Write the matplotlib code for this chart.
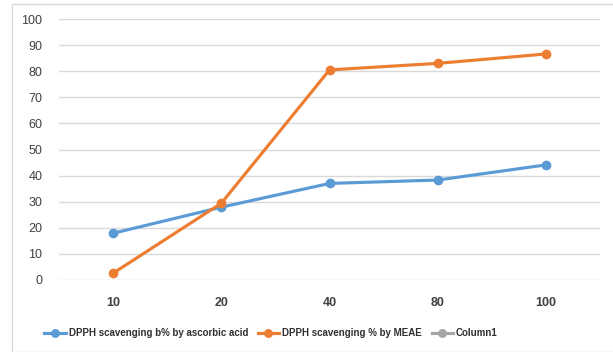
import matplotlib.pyplot as plt
from matplotlib.patches import Rectangle

plt.rcParams['font.family'] = ['Liberation Sans', 'DejaVu Sans']

categories = ['10', '20', '40', '80', '100']
ascorbic = [17.9, 27.9, 37.0, 38.3, 44.1]
meae = [2.6, 29.4, 80.5, 83.0, 86.6]
column1 = []

fig = plt.figure(figsize=(6.13, 3.52), dpi=100)
ax = fig.add_axes([59/613, 1 - 280/352, 541/613, 261/352])

# thin frame round the chart area
fig.patches.append(Rectangle((12/613, 0), 1.2, 1 - 4/352, transform=fig.transFigure,
                             fill=False, edgecolor='#d9d9d9', linewidth=1))

x = range(len(categories))
ax.plot(x, ascorbic, color='#5b9bd5', lw=2.25, marker='o', ms=6,
        label='DPPH scavenging b% by ascorbic acid')
ax.plot(x, meae, color='#ed7d31', lw=2.25, marker='o', ms=6,
        label='DPPH scavenging % by MEAE')
ax.plot(x[:len(column1)], column1, color='#a5a5a5', lw=2.25, marker='o', ms=6,
        label='Column1')

ax.set_xlim(-0.5, len(categories) - 0.5)
ax.set_ylim(0, 100)
ax.set_yticks(range(0, 101, 10))
ax.set_xticks(list(x))
ax.set_xticklabels(categories, fontweight='bold')
ax.grid(axis='y', color='#d9d9d9', lw=1)
ax.set_axisbelow(True)
for s in ax.spines.values():
    s.set_visible(False)
ax.tick_params(length=0, labelsize=9, colors='#404040')
ax.tick_params(axis='y', pad=12)
ax.tick_params(axis='x', pad=12)

fig.legend(loc='center', bbox_to_anchor=(271/613, 1 - 333/352), ncol=3, frameon=False,
           prop={'size': 7, 'weight': 'bold'}, handlelength=2.2, handletextpad=0.3,
           columnspacing=1.0, labelcolor='#303030', markerscale=0.9)

fig.savefig('out.png', dpi=100)
